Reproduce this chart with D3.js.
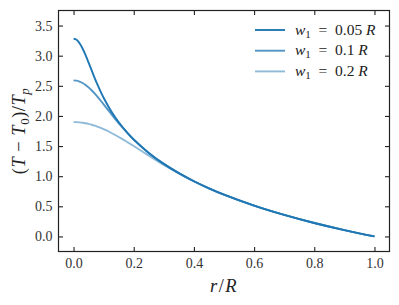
<!DOCTYPE html>
<html>
<head>
<meta charset="utf-8">
<script src="https://cdn.jsdelivr.net/npm/d3@7"></script>
<style>
  body { margin: 0; background: #fff; }
</style>
</head>
<body>
<svg id="chart" width="399" height="305"></svg>
<script>
// r/R sample points, shared by the three curves
const rVals = [0, 0.01, 0.02, 0.03, 0.04, 0.05, 0.06, 0.07, 0.08, 0.09, 0.10,
  0.12, 0.14, 0.16, 0.18, 0.20, 0.25, 0.30, 0.35, 0.40, 0.45, 0.50,
  0.60, 0.70, 0.80, 0.90, 1.00];

// (T - T0)/Tp
const w005 = [3.284, 3.265, 3.207, 3.119, 3.009, 2.886, 2.759, 2.633, 2.514, 2.403, 2.301,
  2.120, 1.966, 1.833, 1.715, 1.609, 1.386, 1.204, 1.050, 0.916, 0.799, 0.693,
  0.511, 0.357, 0.223, 0.105, 0];
const w01 = [2.591, 2.586, 2.571, 2.547, 2.514, 2.474, 2.426, 2.373, 2.316, 2.255, 2.193,
  2.066, 1.940, 1.821, 1.710, 1.607, 1.386, 1.204, 1.050, 0.916, 0.799, 0.693,
  0.511, 0.357, 0.223, 0.105, 0];
const w02 = [1.898, 1.897, 1.893, 1.887, 1.878, 1.867, 1.854, 1.839, 1.821, 1.802, 1.780,
  1.733, 1.680, 1.623, 1.562, 1.500, 1.341, 1.186, 1.044, 0.914, 0.798, 0.693,
  0.511, 0.357, 0.223, 0.105, 0];

const seriesNames = ["0.05", "0.1", "0.2"];
const seriesVals = [w005, w01, w02];
const seriesAlpha = [1, 0.78, 0.5];

const xTicks = [0, 0.2, 0.4, 0.6, 0.8, 1.0];
const yTicks = [0, 0.5, 1.0, 1.5, 2.0, 2.5, 3.0, 3.5];

const mLeft = 58.5, mRight = 389.5, mTop = 10.5, mBottom = 251.5;
const serif = "'Liberation Serif', 'Times New Roman', serif";
const svg = d3.select("#chart");

const x = d3.scaleLinear().domain([-0.05, 1.05]).range([mLeft, mRight]);
const y = d3.scaleLinear().domain([-0.25, 3.75]).range([mBottom, mTop]);

const blue = "#1f77b4";

// curves
const line = d3.line()
  .x(d => x(d[0]))
  .y(d => y(d[1]))
  .curve(d3.curveCatmullRom);

seriesVals.forEach((vals, i) => {
  svg.append("path")
    .datum(rVals.map((r, k) => [r, vals[k]]))
    .attr("fill", "none")
    .attr("stroke", blue)
    .attr("stroke-opacity", seriesAlpha[i])
    .attr("stroke-width", 1.9)
    .attr("d", line);
});

// axes, ticks pointing inward on all four sides
const fmt = d3.format(".1f");
function styleAxis(g) {
  g.attr("font-family", serif);
  g.select(".domain").remove();
  g.selectAll(".tick line").attr("stroke", "#222").attr("stroke-width", 1.1);
  g.selectAll(".tick text").style("font-size", "14px").attr("fill", "#333");
}
svg.append("g").attr("transform", `translate(0,${mBottom})`)
  .call(d3.axisBottom(x).tickValues(xTicks).tickFormat(fmt).tickSizeInner(-4.5).tickSizeOuter(0).tickPadding(7))
  .call(styleAxis);
svg.append("g").attr("transform", `translate(0,${mTop})`)
  .call(d3.axisTop(x).tickValues(xTicks).tickFormat("").tickSizeInner(-4.5).tickSizeOuter(0))
  .call(styleAxis);
svg.append("g").attr("transform", `translate(${mLeft},0)`)
  .call(d3.axisLeft(y).tickValues(yTicks).tickFormat(fmt).tickSizeInner(-4.5).tickSizeOuter(0).tickPadding(6))
  .call(styleAxis);
svg.append("g").attr("transform", `translate(${mRight},0)`)
  .call(d3.axisRight(y).tickValues(yTicks).tickFormat("").tickSizeInner(-4.5).tickSizeOuter(0))
  .call(styleAxis);

svg.append("rect")
  .attr("x", mLeft).attr("y", mTop)
  .attr("width", mRight - mLeft).attr("height", mBottom - mTop)
  .attr("fill", "none").attr("stroke", "#222").attr("stroke-width", 1.2);

// axis labels
const xl = svg.append("text")
  .attr("x", (mLeft + mRight) / 2).attr("y", 292)
  .attr("text-anchor", "middle").style("letter-spacing", "1.5px")
  .attr("font-family", serif).style("font-size", "18.5px").attr("fill", "#222");
xl.append("tspan").attr("font-style", "italic").text("r");
xl.append("tspan").text("/");
xl.append("tspan").attr("font-style", "italic").text("R");

const yl = svg.append("text")
  .attr("transform", `translate(25,${(mTop + mBottom) / 2}) rotate(-90)`)
  .attr("text-anchor", "middle").style("letter-spacing", "0.5px")
  .attr("font-family", serif).style("font-size", "18.5px").attr("fill", "#222");
yl.append("tspan").text("(");
yl.append("tspan").attr("font-style", "italic").text("T");
yl.append("tspan").text("\u2005\u2212\u2005");
yl.append("tspan").attr("font-style", "italic").text("T");
yl.append("tspan").attr("dy", 4).style("font-size", "13px").text("0");
yl.append("tspan").attr("dy", -4).text(")/");
yl.append("tspan").attr("font-style", "italic").text("T");
yl.append("tspan").attr("dy", 4).attr("font-style", "italic").style("font-size", "13px").text("p");

// legend
seriesNames.forEach((name, i) => {
  const ly = 30 + i * 20.7;
  svg.append("line")
    .attr("x1", 255).attr("x2", 285).attr("y1", ly).attr("y2", ly)
    .attr("stroke", blue).attr("stroke-opacity", seriesAlpha[i]).attr("stroke-width", 1.9);
  const t = svg.append("text").attr("x", 295).attr("y", ly + 4.5)
    .attr("font-family", serif).style("font-size", "15.5px").attr("fill", "#222");
  t.append("tspan").attr("font-style", "italic").text("w");
  t.append("tspan").attr("dy", 3).style("font-size", "11px").text("1");
  t.append("tspan").attr("dy", -3).text("\u2002=\u2002" + name + "\u2005");
  t.append("tspan").attr("font-style", "italic").text("R");
});
</script>
</body>
</html>
